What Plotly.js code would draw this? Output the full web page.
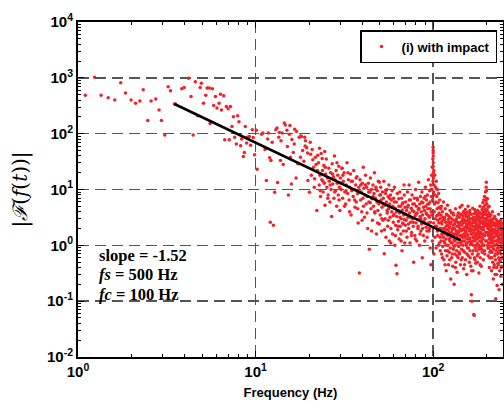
<!DOCTYPE html>
<html>
<head>
<meta charset="utf-8">
<script src="https://cdn.plot.ly/plotly-3.0.1.min.js"></script>
<style>html,body{margin:0;padding:0;background:#fff;}#chart{width:504px;height:403px;}</style>
</head>
<body>
<div id="chart"></div>
<script>
// ---- data: [frequency Hz, |F(f(t))|] ----
const lowBand = [[1.10,490],[1.24,1020],[1.35,490],[1.48,440],[1.61,400],[1.74,815],[1.85,535],[1.99,400],[2.11,350],[2.23,383],[2.33,610],[2.47,172],[2.58,383],[2.74,417],[2.86,265],[2.95,172],[3.08,95],[3.22,695],[3.32,585],[3.49,340],[3.54,340],[3.84,635],[3.96,670],[4.19,985],[4.33,465],[4.45,95],[4.58,850],[4.72,209],[4.87,670],[4.95,800],[5.09,350],[5.24,490],[5.33,660],[5.49,660],[5.54,152],[5.71,635],[5.81,320],[5.94,465],[6.06,288],[6.23,350],[6.34,510],[6.42,265],[6.61,480],[6.70,78],[6.84,308],[7.0,280],[7.11,78],[7.22,308],[7.36,135],[7.50,200],[7.62,86],[7.79,65],[7.93,209],[8.06,163],[8.24,61],[8.34,80],[8.53,39],[8.64,46],[8.75,135],[8.90,68],[8.95,86],[9.22,89],[9.37,62],[9.58,118],[9.70,85],[9.87,42],[10.1,115],[10.2,23]];
const band10to22 = [[10.8,98],[11.0,103],[11.3,52],[11.5,14.5],[11.7,80],[11.8,103],[12.0,37],[12.1,2.6],[12.2,33],[12.4,70],[12.6,2.3],[12.8,8.9],[13.0,118],[13.2,126],[13.3,13.3],[13.5,86],[13.6,105],[13.8,33],[13.9,75],[14.1,103],[14.3,28],[14.5,155],[14.7,143],[15.0,115],[15.1,59],[15.3,8.0],[15.5,98],[15.6,140],[15.7,38],[15.9,12.6],[16.0,79],[16.3,46],[16.5,65],[16.6,120],[16.9,16],[17.0,109],[17.3,29],[17.6,86],[17.9,38],[17.95,91],[18.1,89],[18.4,50],[18.7,32],[18.9,86],[19.0,60],[19.1,75],[19.4,56],[19.6,45],[19.7,14.5],[20.1,8.9],[20.3,70],[20.4,43],[20.8,52],[21.0,34],[21.2,25],[21.5,15.5],[21.7,38],[21.9,28],[22.1,4.2],[22.4,41]];
const band22to50 = [[22.6,30],[22.8,12],[22.9,55],[23.0,18],[23.2,7.5],[23.4,44],[23.6,15],[23.7,36],[23.8,22],[24.0,9],[24.2,27],[24.4,13],[24.5,48],[24.6,5.2],[24.8,19],[25.0,35],[25.2,11],[25.4,16],[25.6,8],[25.8,24],[26.0,14],[26.2,6],[26.4,20],[26.6,10],[26.8,3.3],[27.0,29],[27.2,12.5],[27.4,17],[27.6,7],[27.8,40],[28.0,15],[28.2,9.5],[28.4,22],[28.6,5],[28.8,13],[29.0,18],[29.2,8],[29.4,26],[29.6,11],[29.8,4.2],[30.0,16],[30.3,10],[30.6,24],[30.7,24],[30.9,7],[31.2,14],[31.5,20],[31.8,9],[32.1,5.5],[32.4,12],[32.7,30],[33.0,8.5],[33.3,15],[33.6,6.5],[33.9,11],[34.2,19],[34.5,3.5],[34.8,9.5],[35.1,14],[35.4,7.5],[35.7,22],[36.0,10],[36.3,4.8],[36.6,12],[36.9,6],[37.2,17],[37.5,8.5],[37.8,2.5],[38.1,11],[38.4,0.32],[38.7,15],[39.0,6.5],[39.3,9],[39.6,4],[39.9,13],[40.2,7],[40.4,25],[40.7,10.5],[41.0,3.2],[41.3,8],[41.6,18],[41.9,5.5],[42.2,11],[42.5,7.5],[42.8,2],[43.1,13],[43.4,6],[43.7,0.85],[44.0,9],[44.3,16],[44.6,4.5],[44.9,10],[45.2,6.8],[45.5,2.8],[45.8,12],[46.1,5],[46.4,8.5],[46.7,20],[47.0,3.8],[47.3,7],[47.6,11],[47.9,1.6],[48.2,6],[48.5,9.5],[48.8,4.2],[49.1,14],[49.4,5.5],[49.7,2.4],[49.8,13.5],[50.0,8]];
const band50to98 = [[50.3,3.5],[50.6,11],[50.9,6.5],[51.2,1.8],[51.5,4.8],[51.8,9],[52.1,2.8],[52.4,7],[52.7,14],[53.0,0.71],[53.3,5.2],[53.6,3],[53.9,8.5],[54.2,1.4],[54.5,6],[54.8,10],[55.1,3.8],[55.4,2.2],[55.7,7.5],[56.0,4.5],[56.3,12],[56.6,1.2],[56.9,5.5],[57.2,3.2],[57.5,8],[57.8,2],[58.1,6.5],[58.4,4],[58.7,9.5],[59.0,1.6],[59.3,5],[59.6,2.6],[59.9,7],[60.2,3.6],[60.5,11],[60.8,1],[61.1,4.6],[61.4,2.3],[61.7,0.44],[62.0,6],[62.3,3.3],[62.5,0.31],[62.8,8.5],[63.1,1.9],[63.4,4.2],[63.7,2.7],[64.0,6.8],[64.3,1.3],[64.6,3.8],[64.9,9],[65.2,2.2],[65.5,5],[65.8,1.6],[66.1,3],[66.4,7],[66.7,0.8],[67.0,4.3],[67.3,2.5],[67.6,5.8],[67.9,1.8],[68.2,3.5],[68.5,12],[68.8,2.9],[69.1,1.1],[69.4,4.8],[69.7,2.3],[70.0,6],[70.4,2.8],[70.8,4.2],[71.2,1.4],[71.6,9],[72.0,3.2],[72.4,5.2],[72.8,2],[73.2,12],[73.6,3.8],[74.0,1.1],[74.4,6.5],[74.8,2.6],[75.2,4.6],[75.6,1.7],[76.0,8],[76.4,3],[76.8,5.5],[77.2,2.2],[77.6,0.5],[78.0,4],[78.4,7],[78.8,1.5],[79.2,3.4],[79.6,10],[80.0,2.5],[80.4,5],[80.8,1.2],[81.2,3.8],[81.6,6.5],[82.0,2],[82.4,4.4],[82.8,13.5],[83.2,2.9],[83.6,1],[84.0,5.5],[84.4,3.3],[84.8,7.5],[85.2,1.8],[85.6,4],[86.0,2.4],[86.4,9],[86.8,0.6],[87.2,3.5],[87.6,5.8],[88.0,1.5],[88.4,2.7],[88.8,7],[89.2,4.2],[89.6,1.2],[90.0,3],[90.4,11],[90.8,5],[91.2,2.1],[91.6,6.5],[92.0,3.6],[92.4,1.4],[92.8,8],[93.2,4.5],[93.6,2.5],[94.0,15],[94.4,5.5],[94.8,1.8],[95.2,3.2],[95.6,9.5],[96.0,6],[96.2,0.9],[96.4,2.6],[96.8,12],[97.0,0.45],[97.2,4],[97.6,7.5],[98.0,18]];
const band98to140 = [[98.4,10],[98.8,25],[99.0,1.2],[99.2,6.5],[99.5,35],[99.7,14],[99.8,26],[99.9,57],[99.95,50],[100.0,45],[100.05,40],[100.1,30],[100.2,20],[100.3,16],[100.5,9],[100.8,22],[101.0,0.7],[101.2,12],[101.6,5.5],[102.0,18],[102.4,8],[102.8,3],[103.2,11],[103.6,6],[104.0,14],[104.4,2.2],[104.8,7.5],[105.2,4.5],[105.6,10],[106.0,1.5],[106.4,5.8],[106.8,3.5],[107.2,8.5],[107.6,2.5],[108.0,4.8],[108.4,1.1],[108.8,6.5],[109.2,3],[109.6,0.8],[110.0,2],[110.4,3.5],[110.8,1.2],[111.2,5],[111.6,0.7],[112.0,2.4],[112.4,1.6],[112.8,4],[113.2,0.95],[113.6,2.8],[114.0,1.4],[114.4,6],[114.8,0.55],[115.2,2],[115.6,3.2],[116.0,1.1],[116.4,1.8],[116.8,4.5],[117.2,0.8],[117.6,2.6],[118.0,1.3],[118.4,0.35],[118.8,3.6],[119.2,1.9],[119.6,0.65],[120.0,2.3],[120.4,5.2],[120.8,1.5],[121.2,1],[121.6,2.9],[122.0,0.45],[122.4,1.7],[122.8,3.3],[123.2,0.75],[123.6,2.1],[124.0,1.2],[124.4,4.2],[124.8,0.9],[125.2,1.6],[125.6,0.25],[126.0,2.6],[126.4,1.4],[126.8,3.8],[127.2,0.6],[127.6,1.9],[128.0,1.1],[128.4,2.9],[128.8,0.42],[129.2,1.5],[129.6,2.3],[130.0,0.85],[130.4,3.5],[130.8,1.25],[131.2,0.2],[131.6,2],[132.0,1.6],[132.4,0.7],[132.8,2.7],[133.2,1],[133.6,4.5],[134.0,0.5],[134.4,1.8],[134.8,1.3],[135.2,3],[135.6,0.8],[136.0,2.2],[136.4,0.33],[136.8,1.5],[137.2,2.6],[137.6,1.1],[138.0,0.6],[138.4,3.8],[138.8,1.7],[139.2,0.95],[139.6,2.4]];
const band140to210 = [[140.0,1.3],[140.4,3.2],[140.8,0.7],[141.2,2],[141.6,4.8],[142.0,1.5],[142.4,0.45],[142.8,2.6],[143.2,1.1],[143.6,3.6],[144.0,1.8],[144.4,0.85],[144.8,2.3],[145.2,5.2],[145.6,1.4],[146.0,0.6],[146.4,3],[146.8,1.9],[147.2,1],[147.6,2.5],[148.0,4],[148.4,0.38],[148.8,1.6],[149.2,2.9],[149.6,1.2],[150.0,3.8],[150.4,0.75],[150.8,2.1],[151.2,1.45],[151.6,4.4],[152.0,0.55],[152.4,2.7],[152.8,1.7],[153.2,3.3],[153.6,1],[154.0,2.2],[154.4,0.3],[154.8,1.3],[155.2,3.9],[155.6,2],[156.0,0.9],[156.4,2.8],[156.8,1.55],[157.2,5],[157.6,0.65],[158.0,2.4],[158.4,1.15],[158.8,3.4],[159.2,1.8],[159.6,0.5],[160.0,2.6],[160.4,1.35],[160.8,4.2],[161.2,0.8],[161.6,2],[162.0,3],[162.4,1.05],[162.8,0.42],[163.2,2.3],[163.6,1.6],[164.0,0.13],[164.4,3.6],[164.8,1.2],[165.2,0.1],[165.6,2.5],[166.0,0.7],[166.4,1.9],[166.8,4.6],[167.2,1.4],[167.6,0.35],[168.0,2.8],[168.4,1],[168.8,3.2],[169.2,0.058],[169.6,1.7],[170.0,0.056],[170.4,2.2],[170.8,0.6],[171.2,3.7],[171.6,1.25],[172.0,2.6],[172.4,0.9],[172.8,1.5],[173.2,4],[173.6,0.48],[174.0,2],[174.4,1.3],[174.8,3],[175.2,1.6],[175.6,0.8],[176.0,2.4],[176.4,3.6],[176.8,1.1],[177.2,0.5],[177.6,2],[178.0,4.2],[178.4,1.4],[178.8,2.8],[179.2,0.7],[179.6,1.8],[180.0,3.3],[180.4,1],[180.8,0.32],[181.2,2.3],[181.6,1.5],[182.0,3.9],[182.4,0.85],[182.8,2.6],[183.2,1.2],[183.6,5],[184.0,0.6],[184.4,2.1],[184.8,1.7],[185.2,3.1],[185.6,0.95],[186.0,2.5],[186.4,0.42],[186.8,1.4],[187.2,3.6],[187.6,2],[188.0,1.1],[188.4,4.4],[188.8,0.75],[189.2,2.7],[189.6,1.6],[190.0,3.4],[190.4,5.8],[190.8,1.3],[191.2,2.4],[191.6,0.55],[192.0,4],[192.4,1.9],[192.8,6.5],[193.2,1],[193.6,3],[194.0,2.2],[194.4,7.5],[194.8,0.8],[195.2,3.8],[195.6,1.5],[196.0,5.2],[196.4,2.6],[196.8,9],[197.2,1.2],[197.6,4.4],[198.0,2.9],[198.4,6.2],[198.8,11],[199.2,13.5],[199.4,9.5],[199.6,7],[200.0,3.5],[200.4,5.5],[200.8,1.7],[201.2,4.2],[201.6,2.3],[202.0,6.8],[202.4,1],[202.8,3.2],[203.2,2],[203.6,4.8],[204.0,0.65],[204.4,2.7],[204.8,1.5],[205.2,3.6],[205.6,0.9],[206.0,2.2],[206.4,5],[206.8,1.3],[207.2,0.4],[207.6,2.5],[208.0,1.7],[208.4,3.3],[208.8,0.75],[209.2,1.9],[209.6,1.1]];
const band210to247 = [[210.0,2.8],[210.5,0.6],[211.0,1.5],[211.5,3.5],[212.0,0.95],[212.5,2],[213.0,0.35],[213.5,1.3],[214.0,2.6],[214.5,0.75],[215.0,1.8],[215.5,4],[216.0,1.1],[216.5,0.5],[217.0,2.3],[217.5,1.4],[218.0,0.25],[218.5,3],[219.0,0.85],[219.5,1.7],[220.0,2.5],[220.5,0.45],[221.0,1.2],[221.5,3.3],[222.0,0.65],[222.5,1.9],[223.0,0.3],[223.5,1],[224.0,2.2],[224.5,0.55],[225.0,0.11],[225.5,1.5],[226.0,2.9],[226.5,0.8],[227.0,1.6],[227.5,0.4],[228.0,2.4],[228.5,1.05],[229.0,0.19],[229.5,1.8],[230.0,0.7],[230.5,2.7],[231.0,1.25],[231.5,0.48],[232.0,2],[232.5,0.9],[233.0,1.4],[233.5,3.6],[234.0,0.6],[234.5,1.15],[235.0,0.16],[235.5,2.1],[236.0,1.5],[236.5,0.35],[237.0,2.6],[237.5,0.8],[238.0,1.3],[238.5,0.52],[239.0,1.9],[239.5,0.95],[240.0,2.8],[240.5,0.28],[241.0,1.6],[241.5,0.7],[242.0,2.3],[242.5,1.1],[243.0,0.42],[243.5,1.7],[244.0,0.6],[244.5,2],[245.0,1.2],[245.5,0.2],[246.0,1.5],[246.5,0.85]];
const fill20to40 = [[20.6,18],[21.4,11],[22.3,22],[23.1,9.5],[23.9,14],[24.7,25],[25.5,7],[26.3,12],[27.1,19],[27.9,9],[28.7,30],[29.5,6.5],[30.2,13],[31.0,18],[31.7,5],[32.3,9.5],[33.1,20],[33.8,4],[34.6,14],[35.3,10],[36.1,6.5],[36.8,16],[37.6,4.5],[38.3,9],[39.1,12],[39.8,2.8]];
const fill40to100 = [[40.5,5],[41.5,12],[42.4,3.8],[43.3,9],[44.2,5.8],[45.0,1.8],[45.9,7.5],[46.8,4],[47.7,10],[48.6,2.5],[49.5,6],[50.5,8],[51.4,3],[52.3,5.5],[53.2,1.9],[54.1,9.5],[55.0,4.2],[55.9,2.8],[56.8,7],[57.7,1.1],[58.6,4.8],[59.5,3.4],[60.4,6],[61.3,1.5],[62.2,4],[63.2,2.2],[64.1,5],[65.0,3.2],[66.0,1.2],[66.9,5.5],[67.8,2.4],[68.7,8],[69.6,3.6],[70.6,1.8],[71.5,4.8],[72.5,2.4],[73.4,6.5],[74.4,3.2],[75.4,1.5],[76.3,4.2],[77.3,2.6],[78.3,5.5],[79.3,1.3],[80.2,3.6],[81.2,7],[82.2,2.2],[83.2,4.6],[84.2,1.6],[85.2,3],[86.2,6],[87.2,2],[88.2,4.8],[89.2,2.5],[90.2,7.5],[91.2,3.8],[92.2,1.8],[93.2,5.5],[94.2,3.4],[95.2,2],[96.2,4.5],[97.2,10],[98.2,3.5]];
const fill100to247 = [[100.6,2.5],[101.5,4],[102.3,1.4],[103.0,2.2],[103.9,0.9],[104.6,3.4],[105.5,1.8],[106.3,2.8],[107.0,1],[107.9,3.8],[108.6,2],[109.5,1.4],[110.2,4.5],[111.0,2.6],[111.9,1.6],[112.6,0.6],[113.4,3.2],[114.2,2],[115.0,1.2],[115.9,2.9],[116.6,0.45],[117.4,1.6],[118.2,2.2],[119.0,1],[119.9,3.5],[120.6,0.8],[121.4,1.9],[122.2,2.6],[123.0,1.3],[123.9,0.55],[124.6,2.4],[125.4,3.1],[126.2,1.1],[127.0,1.7],[127.9,0.7],[128.6,2],[129.4,3.8],[130.2,1.5],[131.0,0.95],[131.9,2.4],[132.6,1.2],[133.4,0.4],[134.2,2.8],[135.0,1.6],[135.9,0.65],[136.6,3.4],[137.4,1.8],[138.2,1.3],[139.0,2.2],[139.9,0.75],[140.6,2.5],[141.4,1.1],[142.2,3.6],[143.0,1.9],[143.9,0.55],[144.6,1.5],[145.4,2.7],[146.2,1.2],[147.0,3.4],[147.9,0.8],[148.6,2],[149.4,1.4],[150.2,0.45],[151.0,2.6],[151.9,1.8],[152.6,3.6],[153.4,1.1],[154.2,2.4],[155.0,0.7],[155.9,1.5],[156.6,3.2],[157.4,2.1],[158.2,0.9],[159.0,2.7],[159.9,1.3],[160.6,3.8],[161.4,0.6],[162.2,1.8],[163.0,2.5],[163.9,1.1],[164.6,0.35],[165.4,1.6],[166.2,3],[167.0,2.2],[167.9,0.8],[168.6,1.4],[169.4,2.6],[170.2,1.2],[171.0,4.4],[171.9,0.55],[172.6,1.9],[173.4,2.8],[174.2,1],[175.0,2.3],[175.9,3.3],[176.6,1.3],[177.4,0.65],[178.2,1.7],[179.0,3.4],[179.9,2.2],[180.6,0.9],[181.4,1.4],[182.2,2.9],[183.0,1.6],[183.9,0.45],[184.6,3.8],[185.4,2],[186.2,1.2],[187.0,2.6],[187.9,0.85],[188.6,1.9],[189.4,3.2],[190.2,2.1],[191.0,1],[191.9,4.8],[192.6,2.6],[193.4,1.5],[194.2,3.6],[195.0,0.7],[195.9,2.3],[196.6,4],[197.4,1.7],[198.2,3],[199.0,5.5],[199.9,2.4],[200.6,1.2],[201.4,3.5],[202.2,2.2],[203.0,0.9],[203.9,1.6],[204.6,2.8],[205.4,1.1],[206.2,3.8],[207.0,1.9],[207.9,0.6],[208.6,2.4],[209.4,1.4],[210.2,0.8],[211.2,2.2],[212.2,1.2],[213.2,2.9],[214.2,0.6],[215.2,1.6],[216.2,2.6],[217.2,0.9],[218.2,1.9],[219.2,0.4],[220.2,1.4],[221.2,2.4],[222.2,1],[223.2,1.8],[224.2,0.7],[225.2,2.5],[226.2,1.2],[227.2,0.3],[228.2,1.5],[229.2,2.2],[230.2,0.9],[231.2,1.7],[232.2,0.45],[233.2,2.4],[234.2,1.3],[235.2,0.75],[236.2,1.9],[237.2,0.55],[238.2,2.2],[239.2,1.1],[240.2,1.6],[241.2,0.4],[242.2,1.3],[243.2,2.5],[244.2,0.9],[245.2,1.8],[246.2,0.6],[247.0,1.4]];

// fitted power-law line endpoints (slope = -1.52)
const fitFreq = [3.49, 143];
const fitMag = [340, 1.23];

// tick labels
const xTickVals = [1, 10, 100];
const xTickText = ['10<sup>0</sup>', '10<sup>1</sup>', '10<sup>2</sup>'];
const yTickVals = [0.01, 0.1, 1, 10, 100, 1000, 10000];
const yTickText = ['10<sup>-2</sup>', '10<sup>-1</sup>', '10<sup>0</sup>', '10<sup>1</sup>', '10<sup>2</sup>', '10<sup>3</sup>', '10<sup>4</sup>'];

const allPts = [].concat(lowBand, band10to22, band22to50, band50to98, band98to140, band140to210, band210to247, fill20to40, fill40to100, fill100to247);

const traces = [
  {
    x: allPts.map(p => p[0]), y: allPts.map(p => p[1]),
    type: 'scatter', mode: 'markers', name: '(i) with impact',
    marker: {color: '#f02228', size: 3.5, symbol: 'circle', line: {width: 0}}
  },
  {
    x: fitFreq, y: fitMag, type: 'scatter', mode: 'lines', showlegend: false,
    line: {color: '#000', width: 2.6}
  }
];

const axisCommon = {
  type: 'log', showline: true, linecolor: '#000', linewidth: 2, mirror: 'ticks',
  ticks: 'inside', ticklen: 6, tickwidth: 1.2, tickcolor: '#000',
  tickmode: 'array',
  showgrid: true, gridcolor: '#555', gridwidth: 1.6, griddash: '11px,6px',
  zeroline: false,
  tickfont: {family: 'Liberation Sans, Arial, sans-serif', size: 15, color: '#000', weight: 'bold'},
  minor: {ticks: 'inside', ticklen: 3, tickwidth: 1, tickcolor: '#000', dtick: 'D1', showgrid: false}
};

const layout = {
  width: 504, height: 403,
  margin: {l: 78, r: 1, t: 22, b: 46},
  paper_bgcolor: '#fff', plot_bgcolor: '#fff',
  showlegend: true,
  xaxis: Object.assign({}, axisCommon, {
    range: [0, 2.393], tickvals: xTickVals, ticktext: xTickText,
    title: {text: '<b>Frequency (Hz)</b>', standoff: 9,
      font: {family: 'Liberation Sans, Arial, sans-serif', size: 13, color: '#000'}}
  }),
  yaxis: Object.assign({}, axisCommon, {
    range: [-2, 4], tickvals: yTickVals, ticktext: yTickText,
    title: {text: '|<i>ℱ</i>(<i>f</i>(<i>t</i>))|', standoff: 14,
      font: {family: 'DejaVu Serif, Liberation Serif, serif', size: 20, color: '#000'}}
  }),
  legend: {
    x: 0.986, y: 0.976, xanchor: 'right', yanchor: 'top',
    bgcolor: '#fff', bordercolor: '#000', borderwidth: 1.5,
    font: {family: 'Liberation Sans, Arial, sans-serif', size: 13, color: '#000', weight: 'bold'},
    itemsizing: 'trace'
  },
  annotations: [
    {xref: 'paper', yref: 'paper', x: 0.044, y: 0.304, xanchor: 'left', yanchor: 'middle', showarrow: false,
      text: '<b>slope = -1.52</b>', font: {family: 'Liberation Serif, Times New Roman, serif', size: 16.5, color: '#000'}},
    {xref: 'paper', yref: 'paper', x: 0.044, y: 0.245, xanchor: 'left', yanchor: 'middle', showarrow: false,
      text: '<b><i>fs</i> = 500 Hz</b>', font: {family: 'Liberation Serif, Times New Roman, serif', size: 16.5, color: '#000'}},
    {xref: 'paper', yref: 'paper', x: 0.044, y: 0.186, xanchor: 'left', yanchor: 'middle', showarrow: false,
      text: '<b><i>fc</i> = 100 Hz</b>', font: {family: 'Liberation Serif, Times New Roman, serif', size: 16.5, color: '#000'}}
  ]
};

Plotly.newPlot('chart', traces, layout, {staticPlot: true, displayModeBar: false});
</script>
</body>
</html>
